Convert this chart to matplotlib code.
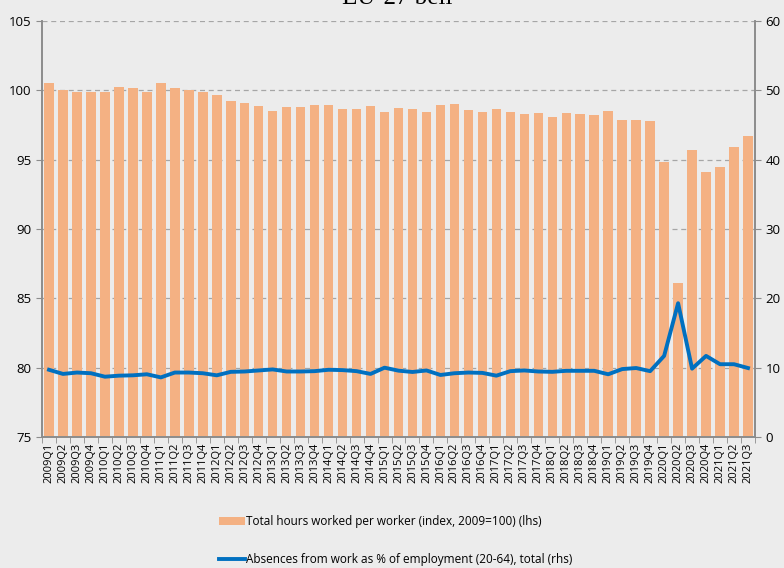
import numpy as np
import matplotlib.pyplot as plt
from matplotlib.patches import Patch
from matplotlib.lines import Line2D

# quarters 2009Q1 .. 2021Q3
quarters = [f"{y}Q{q}" for y in range(2009, 2022) for q in range(1, 5)][:51]

# total hours worked per worker, index 2009=100 (lhs)
hours = [100.5, 100.0, 99.9, 99.87, 99.9, 100.23, 100.16, 99.9,
         100.5, 100.16, 100.06, 99.9, 99.65, 99.2, 99.1, 98.88,
         98.5, 98.8, 98.8, 98.97, 98.93, 98.66, 98.66, 98.85,
         98.44, 98.72, 98.69, 98.47, 98.93, 99.0, 98.57, 98.47,
         98.69, 98.42, 98.33, 98.4, 98.06, 98.37, 98.3, 98.25,
         98.54, 97.87, 97.84, 97.76, 94.83, 86.1, 95.67, 94.08,
         94.44, 95.91, 96.71]

# absences from work as % of employment (rhs)
absences = [9.7, 9.1, 9.3, 9.2, 8.7, 8.85, 8.9, 9.05,
            8.6, 9.3, 9.3, 9.2, 8.9, 9.4, 9.45, 9.6,
            9.75, 9.45, 9.45, 9.5, 9.7, 9.65, 9.5, 9.1,
            10.0, 9.57, 9.38, 9.6, 8.95, 9.2, 9.3, 9.25,
            8.85, 9.5, 9.6, 9.45, 9.4, 9.55, 9.55, 9.55,
            9.05, 9.8, 9.95, 9.5, 11.7, 19.3, 9.86, 11.7,
            10.5, 10.5, 9.95]

bg = '#ECECEC'
bar_col = '#F4B183'
line_col = '#0070C0'
spine_col = '#8C8C8C'

plt.rcParams['font.family'] = ['Open Sans', 'DejaVu Sans']

fig = plt.figure(figsize=(7.84, 5.68), dpi=100, facecolor=bg)
ax = fig.add_axes([0.0536, 0.2306, 0.9094, 0.7324], facecolor=bg)
x = np.arange(len(quarters))

ax.bar(x, hours, width=0.68, color=bar_col, zorder=2)
ax.set_ylim(75, 105)
ax.set_xlim(-0.5, len(quarters) - 0.5)
ax.set_yticks(range(75, 106, 5))
for v in range(80, 106, 5):
    ax.axhline(v, color='#A6A6A6', lw=0.9, ls=(0, (4, 3)), zorder=1)

ax.set_xticks(x)
ax.set_xticklabels(quarters, rotation=90, fontsize=8)
ax.set_xticks(np.arange(-0.5, len(quarters), 1), minor=True)
ax.tick_params(axis='x', which='major', length=0, pad=4)
ax.tick_params(axis='x', which='minor', length=4, color=spine_col)
ax.tick_params(axis='y', labelsize=9.5, length=4, color=spine_col)

ax2 = ax.twinx()
ax2.plot(x, absences, color=line_col, lw=2.8, zorder=3)
ax2.set_ylim(0, 60)
ax2.set_yticks(range(0, 61, 10))
ax2.tick_params(axis='y', labelsize=9.5, length=4, color=spine_col)

for a in (ax, ax2):
    a.spines['top'].set_visible(False)
    for s in ('left', 'right', 'bottom'):
        a.spines[s].set_color(spine_col)
        a.spines[s].set_linewidth(1.2)

# title sits mostly above the canvas, as in the source image
fig.text(0.507, 1 - 3.5 / 568, 'EU-27 bell', family='Liberation Serif',
         fontsize=18, ha='center', va='baseline')

handles = [Patch(facecolor=bar_col, edgecolor='none'),
           Line2D([0], [0], color=line_col, lw=2.8)]
labels = ['Total hours worked per worker (index, 2009=100) (lhs)',
          'Absences from work as % of employment (20-64), total (rhs)']
fig.legend(handles, labels, loc='lower center', bbox_to_anchor=(0.505, -0.009),
           ncol=1, frameon=False, fontsize=8.5, handlelength=2.2,
           handletextpad=0.1, labelspacing=2.1, borderaxespad=0.2)

fig.savefig('out.png', dpi=100, facecolor=bg)
